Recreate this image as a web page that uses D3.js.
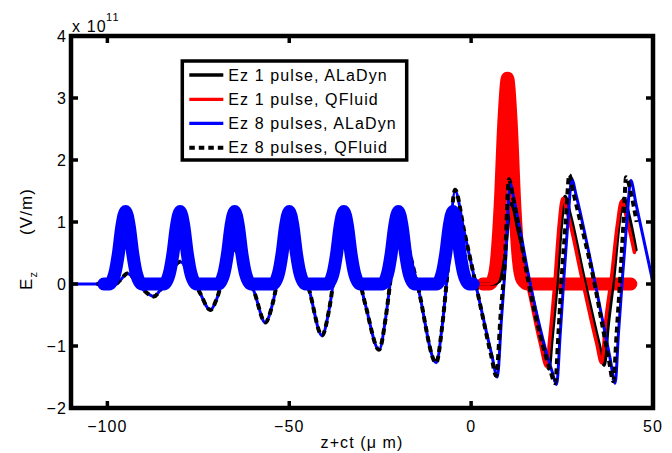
<!DOCTYPE html>
<html><head><meta charset="utf-8">
<script src="https://cdn.jsdelivr.net/npm/d3@7"></script>
<style>
html,body{margin:0;padding:0;background:#fff;}
text{font-family:"Liberation Sans",Arial,Helvetica,sans-serif;fill:#000;}
</style></head>
<body><svg id="c" width="672" height="453"></svg>
<script>
// ---- data (x in µm, y in units of 1e11 V/m) ----
const xTicks = [-100, -50, 0, 50];
const xTickLabels = ["\u2212100", "\u221250", "0", "50"];
const yTicks = [-2, -1, 0, 1, 2, 3, 4];
const yTickLabels = ["\u22122", "\u22121", "0", "1", "2", "3", "4"];
const legendLabels = ["Ez 1 pulse, ALaDyn", "Ez 1 pulse, QFluid", "Ez 8 pulses, ALaDyn", "Ez 8 pulses, QFluid"];

// laser pulse train, 8 pulses (thick blue)
const pulses8 = [[-101,0],
 [-99.5,0],[-98,0.16],[-97,0.48],[-96,0.94],[-95,1.17],[-94,0.94],[-93,0.48],[-92,0.16],[-90.5,0],
 [-84.5,0],[-83,0.16],[-82,0.48],[-81,0.94],[-80,1.17],[-79,0.94],[-78,0.48],[-77,0.16],[-75.5,0],
 [-69.5,0],[-68,0.16],[-67,0.48],[-66,0.94],[-65,1.17],[-64,0.94],[-63,0.48],[-62,0.16],[-60.5,0],
 [-54.5,0],[-53,0.16],[-52,0.48],[-51,0.94],[-50,1.17],[-49,0.94],[-48,0.48],[-47,0.16],[-45.5,0],
 [-39.5,0],[-38,0.16],[-37,0.48],[-36,0.94],[-35,1.17],[-34,0.94],[-33,0.48],[-32,0.16],[-30.5,0],
 [-24.5,0],[-23,0.16],[-22,0.48],[-21,0.94],[-20,1.17],[-19,0.94],[-18,0.48],[-17,0.16],[-15.5,0],
 [-9.5,0],[-8,0.16],[-7,0.48],[-6,0.94],[-5,1.17],[-4,0.94],[-3,0.48],[-2,0.16],[-0.5,0],
 [0.6,0]];

// single laser pulse (thick red)
const pulse1 = [[3.2,0],[5,0],[6,0.07],[7,0.39],[8,1.28],[9,2.62],[10,3.32],[11,2.62],[12,1.28],[13,0.39],[14,0.07],[15.5,0],[43.9,0]];

// Ez 1 pulse, ALaDyn (black solid)
const ez1Aladyn = [[0,0],[6,0],[7.8,0.05],[9.3,0.5],[11,1.3],[12.7,0.9],[16.4,-0.08],[20,-1.05],[21.4,-1.37],[22.2,-0.9],
 [23.6,0],[24.8,0.95],[25.8,1.41],[27.3,1.1],[31,0.1],[35.3,-1.0],[36.6,-1.31],[37.6,-0.7],[39.2,0.1],[40.7,1.0],
 [42,1.38],[43.4,1.1],[45.3,0.55]];

// Ez 1 pulse, QFluid (red)
const ez1Qfluid = [[2,0],[5,0],[7,0.05],[8.5,0.5],[10.3,1.25],[12,0.85],[15.8,-0.08],[19,-0.95],[20.8,-1.33],[21.6,-0.9],
 [23,0],[24.2,0.95],[25.2,1.38],[26.7,1.1],[30.4,0.11],[34.5,-0.95],[35.9,-1.27],[37,-0.6],[38.6,0.11],[40.2,0.95],
 [41.4,1.34],[42.8,1.05],[44.9,0.51]];

// Ez 8 pulses, ALaDyn (blue thin)
const ez8Aladyn = [[-110,0],[-100,0],[-98,-0.01],[-96.5,0.06],[-94.5,0.17],[-92.5,0.08],[-90,-0.1],[-87.2,-0.2],[-85.5,-0.1],
 [-83,0.15],[-80,0.36],[-77.5,0.2],[-74.5,-0.15],[-71.7,-0.42],[-70,-0.25],[-67.5,0.25],[-65.3,0.56],[-63,0.38],
 [-59.5,-0.15],[-56.6,-0.62],[-54.5,-0.3],[-52.3,0.35],[-50.2,0.8],[-48,0.55],[-44.5,-0.1],[-41,-0.83],[-39,-0.4],
 [-37,0.4],[-35,0.95],[-33,0.65],[-29,-0.35],[-25.3,-1.06],[-23.5,-0.55],[-22.3,0],[-20,1.15],[-18,0.75],[-14.6,-0.05],
 [-9.6,-1.27],[-8,-0.7],[-6.7,0.05],[-4.4,1.5],[-2,0.87],[2,-0.2],[5.7,-1.15],[7.2,-1.5],[8.3,-0.6],[9.5,0.4],
 [10.7,1.62],[12,1.3],[16.6,-0.1],[22.2,-1.4],[23.5,-1.62],[24.5,-0.8],[25.5,0.1],[26.6,1.0],[27.7,1.7],[28.8,1.45],
 [33.8,0.1],[38.2,-1.2],[39.6,-1.6],[40.5,-0.8],[41.6,0.1],[42.8,1.0],[43.9,1.67],[45.3,1.3],[50,0.02]];

// Ez 8 pulses, QFluid (black dashed)
const ez8Qfluid = [[-103,0],[-100,0],[-98,-0.01],[-96.5,0.06],[-94.5,0.17],[-92.5,0.08],[-90,-0.1],[-87.2,-0.2],[-85.5,-0.1],
 [-83,0.15],[-80,0.36],[-77.5,0.2],[-74.5,-0.15],[-71.7,-0.42],[-70,-0.25],[-67.5,0.25],[-65.3,0.56],[-63,0.38],
 [-59.5,-0.15],[-56.6,-0.62],[-54.5,-0.3],[-52.3,0.35],[-50.2,0.8],[-48,0.55],[-44.5,-0.1],[-41,-0.83],[-39,-0.4],
 [-37,0.4],[-35,0.95],[-33,0.65],[-29,-0.35],[-25.3,-1.06],[-23.5,-0.55],[-22.3,0],[-20,1.15],[-18,0.75],[-14.6,-0.05],
 [-9.6,-1.27],[-8,-0.7],[-6.7,0.05],[-4.4,1.52],[-2,0.88],[2,-0.2],[5.5,-1.15],[6.9,-1.48],[8.1,-0.5],[9.3,0.4],
 [10.4,1.69],[11.5,1.4],[16.2,-0.1],[21.8,-1.4],[23.1,-1.6],[24,-0.8],[24.9,0.1],[26,1.0],[27,1.76],[28.1,1.48],
 [33.6,0.1],[37.8,-1.2],[39.1,-1.57],[40,-0.8],[41,0.1],[41.9,1.0],[42.6,1.72],[44,1.45],[45.5,1.0]];

// ---- drawing ----
const svg = d3.select("#c");
const L = 71, R = 653, T = 36, B = 408;
const x = d3.scaleLinear().domain([-110, 50]).range([L, R]);
const y = d3.scaleLinear().domain([-2, 4]).range([B, T]);

svg.append("defs").append("clipPath").attr("id", "clip")
  .append("rect").attr("x", L).attr("y", T).attr("width", R - L).attr("height", B - T);

const line = d3.line().x(d => x(d[0])).y(d => y(d[1])).curve(d3.curveMonotoneX);
const g = svg.append("g").attr("clip-path", "url(#clip)");

function draw(data, color, w, dash) {
  const p = g.append("path").datum(data).attr("d", line)
    .attr("fill", "none").attr("stroke", color).attr("stroke-width", w)
    .attr("stroke-linejoin", "round").attr("stroke-linecap", dash ? "butt" : "round");
  if (dash) p.attr("stroke-dasharray", dash);
}
draw(pulse1, "#ff0000", 13);
draw(ez1Aladyn, "#000000", 3.5);
draw(ez1Qfluid, "#ff0000", 3.5);
draw(ez8Aladyn, "#0000ff", 3);
draw(ez8Qfluid, "#000000", 4, "6,4");
draw(pulses8, "#0000ff", 13);

// axes box
const ax = svg.append("g");
ax.append("rect").attr("x", L).attr("y", T).attr("width", R - L).attr("height", B - T)
  .attr("fill", "none").attr("stroke", "#000").attr("stroke-width", 4.5);

// ticks (inside, mirrored)
const tl = 7;
xTicks.forEach((t, i) => {
  const px = x(t);
  ax.append("line").attr("x1", px).attr("x2", px).attr("y1", B).attr("y2", B - tl).attr("stroke", "#000").attr("stroke-width", 3.5);
  ax.append("line").attr("x1", px).attr("x2", px).attr("y1", T).attr("y2", T + tl).attr("stroke", "#000").attr("stroke-width", 3.5);
  ax.append("text").attr("x", px).attr("y", 432).attr("text-anchor", "middle")
    .attr("font-size", 16).attr("letter-spacing", 1.1).text(xTickLabels[i]);
});
yTicks.forEach((t, i) => {
  const py = y(t);
  ax.append("line").attr("x1", L).attr("x2", L + tl).attr("y1", py).attr("y2", py).attr("stroke", "#000").attr("stroke-width", 3.5);
  ax.append("line").attr("x1", R).attr("x2", R - tl).attr("y1", py).attr("y2", py).attr("stroke", "#000").attr("stroke-width", 3.5);
  ax.append("text").attr("x", 67).attr("y", py + 6).attr("text-anchor", "end")
    .attr("font-size", 16).attr("letter-spacing", 1.1).text(yTickLabels[i]);
});

// exponent
const ex = svg.append("text").attr("x", 72).attr("y", 32).attr("font-size", 16).attr("letter-spacing", 1.1);
ex.append("tspan").text("x 10");
ex.append("tspan").attr("x", 106).attr("y", 21).attr("font-size", 11).text("11");

// axis labels
svg.append("text").attr("x", 362).attr("y", 448).attr("text-anchor", "middle")
  .attr("font-size", 16).attr("letter-spacing", 1.1).text("z+ct (\u03bc m)");
const yl = svg.append("text").attr("transform", "rotate(-90)").attr("font-size", 17).attr("letter-spacing", 1.1);
yl.append("tspan").attr("x", -290).attr("y", 32).text("E");
yl.append("tspan").attr("dy", 5).attr("font-size", 11).text("z");
yl.append("tspan").attr("x", -235).attr("y", 32).text("(V/m)");

// legend
const lg = svg.append("g");
lg.append("rect").attr("x", 182.3).attr("y", 61).attr("width", 224.4).attr("height", 99)
  .attr("fill", "#fff").attr("stroke", "#000").attr("stroke-width", 3.5);
const legColors = ["#000000", "#ff0000", "#0000ff", "#000000"];
const legDash = [null, null, null, "5.5,4"];
const legW = [3.3, 3.3, 3.3, 4];
const rowY = [75, 99.3, 123.3, 147.7];
legendLabels.forEach((lab, i) => {
  const ln = lg.append("line").attr("x1", 189.3).attr("x2", 223.3).attr("y1", rowY[i]).attr("y2", rowY[i])
    .attr("stroke", legColors[i]).attr("stroke-width", legW[i]);
  if (legDash[i]) ln.attr("stroke-dasharray", legDash[i]);
  lg.append("text").attr("x", 228.3).attr("y", rowY[i] + 5.7).attr("font-size", 16)
    .attr("letter-spacing", 1.1).text(lab);
});
</script></body></html>
